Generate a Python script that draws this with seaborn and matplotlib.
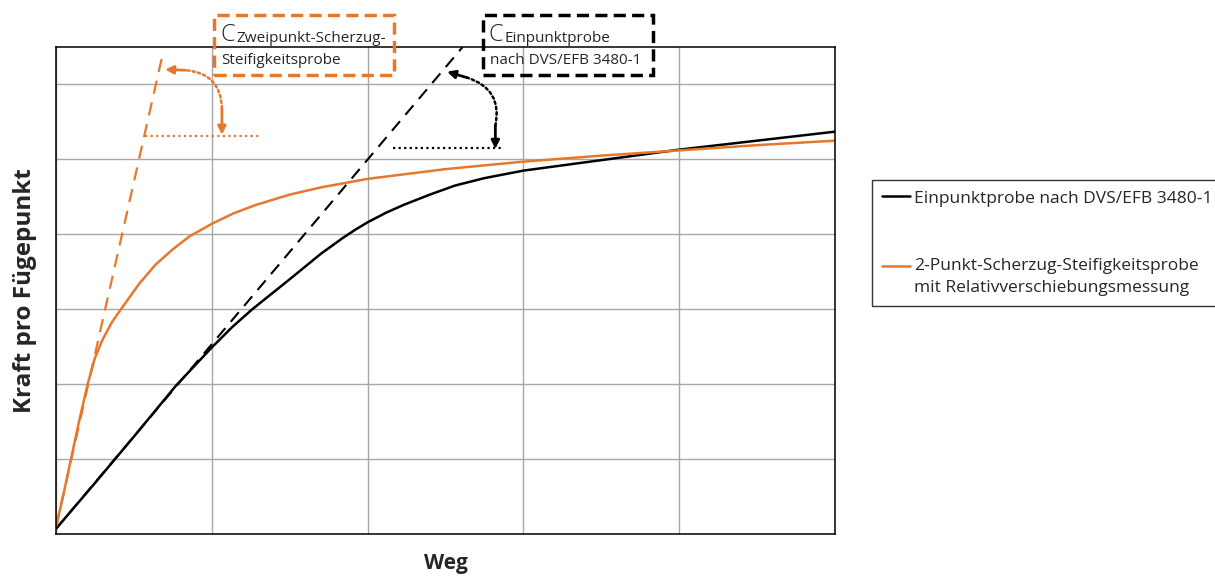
import matplotlib
matplotlib.use("Agg")
import pandas as pd
import seaborn as sns
from matplotlib import pyplot as plt
from matplotlib.patches import Rectangle


orange = '#E8772E'

# Einpunktprobe nach DVS/EFB 3480-1 (black curve)
weg_ein = [0.0, 0.25, 0.5, 0.77, 1.0, 1.13, 1.26, 1.5, 1.7, 1.84, 1.92, 2.0, 2.12, 2.24, 2.4, 2.56, 2.75,
           3.0, 3.25, 3.5, 4.0, 4.5, 5.0]
kraft_ein = [0.07, 0.68, 1.3, 1.98, 2.49, 2.76, 3.0, 3.4, 3.74, 3.95, 4.06, 4.16, 4.29, 4.4, 4.53, 4.65, 4.75,
             4.85, 4.92, 4.99, 5.13, 5.25, 5.37]

# 2-Punkt-Scherzug-Steifigkeitsprobe (orange curve)
weg_zwei = [0.0, 0.05, 0.096, 0.15, 0.203, 0.25, 0.3, 0.36, 0.417, 0.534, 0.641, 0.75, 0.855, 1.0, 1.14, 1.28,
            1.5, 1.71, 2.0, 2.5, 3.0, 3.5, 4.0, 4.5, 5.0]
kraft_zwei = [0.09, 0.55, 1.0, 1.52, 2.0, 2.35, 2.6, 2.83, 3.0, 3.34, 3.6, 3.8, 3.97, 4.14, 4.28, 4.39,
              4.53, 4.63, 4.74, 4.87, 4.97, 5.05, 5.12, 5.19, 5.25]

# initial stiffness tangents (dashed)
tangente_ein_x = [0.0, 2.61]
tangente_ein_y = [0.07, 6.5]
tangente_zwei_x = [0.0, 0.68]
tangente_zwei_y = [0.09, 6.36]

# dotted reference levels
niveau_zwei_x = [0.57, 1.30]
niveau_zwei_y = [5.31, 5.31]
niveau_ein_x = [2.16, 2.87]
niveau_ein_y = [5.15, 5.15]

label_ein = 'Einpunktprobe nach DVS/EFB 3480-1'
label_zwei = '\n2-Punkt-Scherzug-Steifigkeitsprobe\nmit Relativverschiebungsmessung'

sns.set_style("white")
plt.rcParams['font.family'] = ['Open Sans', 'DejaVu Sans']

df = pd.concat([
    pd.DataFrame({'Weg': weg_ein, 'Kraft': kraft_ein, 'Probe': label_ein}),
    pd.DataFrame({'Weg': weg_zwei, 'Kraft': kraft_zwei, 'Probe': label_zwei}),
])

fig = plt.figure(figsize=(12.15, 5.79), dpi=100)
ax = fig.add_axes([56 / 1215, 45 / 579, 779 / 1215, 487 / 579])

sns.lineplot(data=df, x='Weg', y='Kraft', hue='Probe', palette={label_ein: 'black', label_zwei: orange},
             sort=False, estimator=None, lw=1.8, ax=ax)

sns.lineplot(x=tangente_ein_x, y=tangente_ein_y, color='black', lw=1.5, ax=ax, linestyle=(0, (6, 4)))
sns.lineplot(x=tangente_zwei_x, y=tangente_zwei_y, color=orange, lw=1.6, ax=ax, linestyle=(0, (6, 4)))
ax.plot(niveau_zwei_x, niveau_zwei_y, color=orange, lw=1.6, ls=(0, (1, 1.5)))
ax.plot(niveau_ein_x, niveau_ein_y, color='black', lw=1.6, ls=(0, (1, 1.5)))


def arrow_group(ax, color, tip, knee, corner, base):
    ax.annotate('', xy=tip, xytext=knee,
                arrowprops=dict(arrowstyle='-|>', color=color, lw=2, mutation_scale=12, shrinkA=0, shrinkB=0))
    ax.annotate('', xy=knee, xytext=corner,
                arrowprops=dict(arrowstyle='-', color=color, lw=1.8, ls=(0, (1, 1.2)), shrinkA=0, shrinkB=0,
                                connectionstyle='arc3,rad=0.45'))
    ax.annotate('', xy=base, xytext=corner,
                arrowprops=dict(arrowstyle='-|>', color=color, lw=2, mutation_scale=12, shrinkA=0, shrinkB=0))


arrow_group(ax, orange, (0.70, 6.2), (0.83, 6.19), (1.065, 5.68), (1.065, 5.33))
arrow_group(ax, 'black', (2.51, 6.17), (2.64, 6.09), (2.82, 5.45), (2.82, 5.14))

ax.set_xlim(0, 5)
ax.set_ylim(0, 6.5)
ax.set_xticks(range(0, 6))
ax.set_yticks(range(0, 7))
ax.set_xticklabels([])
ax.set_yticklabels([])
ax.tick_params(length=0)
ax.grid(True, color='#a8a8a8', lw=1)
for s in ax.spines.values():
    s.set_color('black')
    s.set_linewidth(1.1)

ax.set_xlabel('Weg', fontsize=15, fontweight='bold', labelpad=10)
ax.set_ylabel('Kraft pro Fügepunkt', fontsize=17.5, fontweight='bold', labelpad=10)

leg = ax.legend(loc='upper left', bbox_to_anchor=(872 / 1215, 1 - 180 / 579), bbox_transform=fig.transFigure,
                borderaxespad=0, fontsize=12.5, frameon=True, fancybox=False, edgecolor='black',
                handlelength=1.6, handletextpad=0.2, borderpad=0.6, labelspacing=1.75, title=None)
leg.get_frame().set_linewidth(1.0)
for t in leg.get_texts():
    t.set_linespacing(1.45)
for h in leg.get_lines():
    h.set_linewidth(1.8)

# annotation boxes above the plot
fig.patches.append(Rectangle((214 / 1215, 1 - 75 / 579), 180 / 1215, 60 / 579, transform=fig.transFigure,
                             fill=False, edgecolor=orange, lw=2.5, ls=(0, (3.5, 1.8))))
fig.patches.append(Rectangle((483 / 1215, 1 - 75 / 579), 170 / 1215, 60 / 579, transform=fig.transFigure,
                             fill=False, edgecolor='black', lw=2.5, ls=(0, (3.5, 1.8))))

fig.text(220 / 1215, 1 - 35 / 579, 'C', fontsize=17, fontweight='light', va='center', ha='left')
fig.text(236 / 1215, 1 - 38 / 579, 'Zweipunkt-Scherzug-', fontsize=11, va='center', ha='left')
fig.text(221 / 1215, 1 - 61 / 579, 'Steifigkeitsprobe', fontsize=11, va='center', ha='left')
fig.text(489 / 1215, 1 - 35 / 579, 'C', fontsize=17, fontweight='light', va='center', ha='left')
fig.text(505 / 1215, 1 - 38 / 579, 'Einpunktprobe', fontsize=11, va='center', ha='left')
fig.text(490 / 1215, 1 - 61 / 579, 'nach DVS/EFB 3480-1', fontsize=11, va='center', ha='left')

fig.savefig('out.png', dpi=100)
